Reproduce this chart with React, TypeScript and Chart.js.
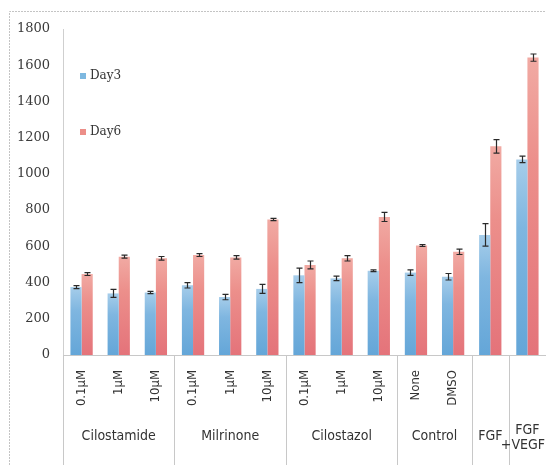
import React, { useEffect, useRef } from "react";
import { Chart, registerables } from "chart.js";

Chart.register(...registerables);

const categories = ["0.1µM", "1µM", "10µM", "0.1µM", "1µM", "10µM", "0.1µM", "1µM", "10µM", "None", "DMSO", "FGF", "FGF+VEGF"];
const tickLabels = ["0.1µM", "1µM", "10µM", "0.1µM", "1µM", "10µM", "0.1µM", "1µM", "10µM", "None", "DMSO", "", ""];
const groupNames = [["Cilostamide"], ["Milrinone"], ["Cilostazol"], ["Control"], ["FGF"], ["FGF", "+VEGF"]];
const groupStart = [0, 3, 6, 9, 11, 12];
const groupEnd = [2, 5, 8, 10, 11, 12];

const day3 = [375, 340, 345, 385, 320, 365, 440, 423, 465, 455, 432, 663, 1080];
const day3Err = [8, 22, 6, 15, 15, 25, 40, 12, 5, 15, 18, 62, 18];
const day6 = [447, 543, 534, 552, 539, 748, 497, 534, 762, 605, 570, 1152, 1642];
const day6Err = [8, 8, 10, 8, 10, 6, 22, 15, 25, 5, 15, 37, 20];

const yMin = 0;
const yMax = 1800;
const yStep = 200;

const COLORS = {
  blueTop: "#a6cdea",
  blueBottom: "#64a6d8",
  redTop: "#f1aaa3",
  redBottom: "#e4737a",
};

function gradientFill(top: string, bottom: string, fallback: string) {
  return (ctx: any) => {
    const chart = ctx.chart;
    if (!chart.chartArea || ctx.type !== "data") return fallback;
    const v = ctx.raw as number;
    const y = chart.scales.y;
    const y1 = y.getPixelForValue(v);
    const y0 = y.getPixelForValue(0);
    if (!isFinite(y1) || !isFinite(y0) || y0 === y1) return fallback;
    const g = chart.ctx.createLinearGradient(0, y1, 0, y0);
    g.addColorStop(0, top);
    g.addColorStop(0.35, fallback);
    g.addColorStop(1, bottom);
    return g;
  };
}

const errs = [day3Err, day6Err];
const vals = [day3, day6];

const decorPlugin = {
  id: "decor",
  beforeDraw(chart: any) {
    const { ctx, width, height } = chart;
    ctx.save();
    ctx.strokeStyle = "#c4c4c4";
    ctx.lineWidth = 1;
    ctx.setLineDash([2, 1]);
    ctx.beginPath();
    ctx.moveTo(9.5, height);
    ctx.lineTo(9.5, 11.5);
    ctx.lineTo(width, 11.5);
    ctx.stroke();
    ctx.restore();
  },
  afterDatasetsDraw(chart: any) {
    const { ctx } = chart;
    const y = chart.scales.y;
    ctx.save();
    ctx.strokeStyle = "#2a2a2a";
    ctx.lineWidth = 1.2;
    for (let d = 0; d < 2; d++) {
      const meta = chart.getDatasetMeta(d);
      meta.data.forEach((bar: any, j: number) => {
        const v = vals[d][j];
        const e = errs[d][j];
        const x = Math.round(bar.x) + 0.5;
        const yt = y.getPixelForValue(v + e);
        const yb = y.getPixelForValue(v - e);
        ctx.beginPath();
        ctx.moveTo(x, yt);
        ctx.lineTo(x, yb);
        ctx.moveTo(x - 3, yt);
        ctx.lineTo(x + 3, yt);
        ctx.moveTo(x - 3, yb);
        ctx.lineTo(x + 3, yb);
        ctx.stroke();
      });
    }
    ctx.restore();
  },
  afterDraw(chart: any) {
    const { ctx, chartArea, height } = chart;
    const x = chart.scales.x;
    const n = categories.length;
    const cw = (chartArea.right - chartArea.left) / n;
    ctx.save();
    // separators
    ctx.strokeStyle = "#c8c8c8";
    ctx.lineWidth = 1;
    const seps = [0, ...groupEnd.map((e) => e + 1)];
    seps.forEach((s) => {
      const px = Math.round(chartArea.left + s * cw) + 0.5;
      if (px > chart.width) return;
      ctx.beginPath();
      ctx.moveTo(px, chartArea.bottom);
      ctx.lineTo(px, height);
      ctx.stroke();
    });
    // rotated tick labels
    ctx.fillStyle = "#333";
    ctx.font = "13px 'Liberation Sans Narrow', 'DejaVu Sans Condensed', sans-serif";
    tickLabels.forEach((t, i) => {
      if (!t) return;
      const px = x.getPixelForValue(i);
      ctx.save();
      ctx.translate(px, chartArea.bottom + 15);
      ctx.rotate(-Math.PI / 2);
      ctx.textAlign = "right";
      ctx.textBaseline = "middle";
      ctx.fillText(t, 0, 0);
      ctx.restore();
    });
    // group labels
    ctx.font = "14px 'Liberation Sans Narrow', 'DejaVu Sans Condensed', sans-serif";
    ctx.textAlign = "center";
    ctx.textBaseline = "middle";
    groupNames.forEach((lines, g) => {
      let cx = (x.getPixelForValue(groupStart[g]) + x.getPixelForValue(groupEnd[g])) / 2;
      const y0 = lines.length > 1 ? 430 : 436;
      lines.forEach((l, k) => {
        const w = ctx.measureText(l).width;
        const px = Math.min(cx, chart.width - 1 - w / 2);
        ctx.fillText(l, px, y0 + k * 15);
      });
    });
    // legend
    ctx.font = "12px 'DejaVu Serif', serif";
    ctx.textAlign = "left";
    ctx.textBaseline = "middle";
    const leg = [
      { label: "Day3", color: "#7db8e0", y: chartArea.top + 47 },
      { label: "Day6", color: "#ec8e88", y: chartArea.top + 103 },
    ];
    leg.forEach((l) => {
      ctx.fillStyle = l.color;
      ctx.fillRect(chartArea.left + 17, l.y - 3, 6, 6);
      ctx.fillStyle = "#333";
      ctx.fillText(l.label, chartArea.left + 27, l.y);
    });
    ctx.restore();
  },
};

export default function App() {
  const ref = useRef<HTMLCanvasElement | null>(null);
  useEffect(() => {
    if (!ref.current) return;
    const chart = new Chart(ref.current, {
      type: "bar",
      data: {
        labels: categories,
        datasets: [
          {
            label: "Day3",
            data: day3,
            backgroundColor: gradientFill(COLORS.blueTop, COLORS.blueBottom, "#7fb6e0"),
            borderWidth: 0,
          },
          {
            label: "Day6",
            data: day6,
            backgroundColor: gradientFill(COLORS.redTop, COLORS.redBottom, "#ec8f8b"),
            borderWidth: 0,
          },
        ],
      },
      options: {
        responsive: false,
        animation: false,
        devicePixelRatio: 1,
        layout: { padding: { top: 29, bottom: 110, left: 0, right: 0 } },
        datasets: { bar: { categoryPercentage: 0.6, barPercentage: 1.0 } },
        plugins: { legend: { display: false }, tooltip: { enabled: false } },
        scales: {
          x: {
            grid: { display: false, drawTicks: false },
            border: { display: true, color: "#c8c8c8" },
            ticks: { display: false },
          },
          y: {
            min: yMin,
            max: yMax,
            afterFit: (s: any) => {
              s.width = 63;
            },
            grid: { display: false, drawTicks: false },
            border: { display: true, color: "#cfcfcf", dash: [2, 1] },
            ticks: {
              stepSize: yStep,
              padding: 13,
              color: "#3a3a3a",
              font: { family: "'DejaVu Serif', serif", size: 13 },
              callback: (v: any) => String(v),
            },
          },
        },
      },
      plugins: [decorPlugin],
    });
    return () => chart.destroy();
  }, []);
  return (
    <div style={{ position: "absolute", left: 0, top: 0, width: 546, height: 465, background: "#fff" }}>
      <canvas ref={ref} width={546} height={465} style={{ display: "block" }} />
    </div>
  );
}
